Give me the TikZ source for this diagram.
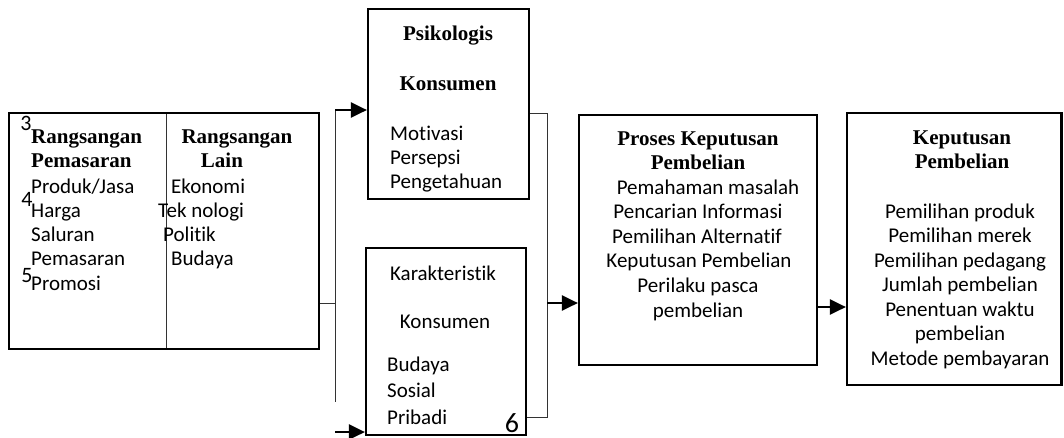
\documentclass[tikz,border=0pt]{standalone}
\usepackage{fontspec}
\setmainfont{Carlito}[Ligatures=NoCommon]
\newfontfamily\hurufjudul{Liberation Serif}
\usetikzlibrary{arrows.meta}

\begin{document}
\begin{tikzpicture}[x=1pt, y=-1pt,
  kotak/.style={draw, line width=2.2pt, inner sep=0pt},
  garis/.style={line width=0.9pt, black!80},
  panah/.style={line width=2.4pt, -{Triangle[length=16pt,width=15pt]}},
  isi/.style={inner sep=0pt, font=\fontsize{21}{25}\selectfont, text height=15pt, text depth=5pt},
  judul/.style={isi, font=\hurufjudul\bfseries\fontsize{21}{25}\selectfont},
  angka/.style={isi, font=\fontsize{22}{24}\selectfont}]

  \useasboundingbox (0,0) rectangle (1064,437);

  % rangsangan
  \node[kotak, minimum width=310pt, minimum height=236pt] (rangsang) at (164,231) {};
  \coordinate (batas) at (166,0);
  \draw[garis, shorten <=2pt, shorten >=2pt] (rangsang.north -| batas) -- (rangsang.south -| batas);

  \node[angka] (no3) at (26,125) {3};
  \node[judul, anchor=west] (rp1) at (31,138) {Rangsangan};
  \node[judul, anchor=west] (rp2) at (31,162) {Pemasaran};
  \foreach \t [count=\i from 0] in {Produk/Jasa, Harga, Saluran, Pemasaran, Promosi}
    \node[isi, anchor=west] (pasar\i) at (31,{188+24.3*\i}) {\t};
  \node[angka] (no4) at (27,201) {4};
  \node[angka] (no5) at (27,277) {5};

  \node[judul] (rl1) at (237,138) {Rangsangan};
  \node[judul] (rl2) at (222,162) {Lain};
  \foreach \t/\x [count=\i from 0] in {Ekonomi/171, Tek nologi/158, Politik/163, Budaya/171}
    \node[isi, anchor=west] (lain\i) at (\x,{188+24.3*\i}) {\t};

  % psikologis
  \node[kotak, minimum width=161pt, minimum height=190pt] (psiko) at (448.5,104) {};
  \node[judul] (ps1) at (448,35) {Psikologis};
  \node[judul] (ps2) at (448,85) {Konsumen};
  \foreach \t [count=\i from 0] in {Motivasi, Persepsi, Pengetahuan}
    \node[isi, anchor=west] (psi\i) at (390,{135+24*\i}) {\t};

  % karakteristik
  \node[kotak, minimum width=160pt, minimum height=187pt] (karak) at (446,341.5) {};
  \node[isi] (kr1) at (443,275) {Karakteristik};
  \node[isi] (kr2) at (445,323) {Konsumen};
  \foreach \t [count=\i from 0] in {Budaya, Sosial, Pribadi}
    \node[isi, anchor=west] (kar\i) at (387,{366+26.5*\i}) {\t};
  \node[isi, font=\fontsize{28}{30}\selectfont] (no6) at (512,427) {6};

  % proses keputusan
  \node[kotak, minimum width=238pt, minimum height=250pt] (proses) at (698,240) {};
  \node[judul] (pk1) at (698,140) {Proses Keputusan};
  \node[judul] (pk2) at (698,164) {Pembelian};
  \foreach \t/\x [count=\i from 0] in {Pemahaman masalah/708, Pencarian Informasi/698, Pemilihan Alternatif/697, Keputusan Pembelian/699, Perilaku pasca/698, pembelian/698}
    \node[isi] (tahap\i) at (\x,{189+24.6*\i}) {\t};

  % keputusan pembelian
  \node[kotak, minimum width=214.5pt, minimum height=272pt] (keputusan) at (954.25,249) {};
  \node[judul] (kp1) at (962,139) {Keputusan};
  \node[judul] (kp2) at (962,163) {Pembelian};
  \foreach \t [count=\i from 0] in {Pemilihan produk, Pemilihan merek, Pemilihan pedagang, Jumlah pembelian, Penentuan waktu, pembelian, Metode pembayaran}
    \node[isi] (pilih\i) at (960,{213+24.5*\i}) {\t};

  % cabang kiri
  \coordinate (atas) at (335,110);
  \coordinate (bawah) at (335,402);
  \coordinate (cabang) at (335,303);
  \coordinate (masuk) at (335,432);
  \draw[garis] (rangsang.east |- cabang) -- (cabang);
  \draw[garis] (atas) -- (bawah);
  \draw[panah] (atas) -- (atas -| psiko.west);
  \draw[panah] (masuk) -- (masuk -| karak.west);

  % cabang kanan
  \coordinate (kanan) at (547,113);
  \coordinate (kananbawah) at (547,417);
  \coordinate (gabung) at (547,303);
  \draw[garis] (psiko.east |- kanan) -- (kanan) -- (kananbawah) -- (kananbawah -| karak.east);
  \draw[panah] (gabung) -- (gabung -| proses.west);
  \coordinate (hasil) at (0,307);
  \draw[panah] (proses.east |- hasil) -- (hasil -| keputusan.west);
\end{tikzpicture}
\end{document}
